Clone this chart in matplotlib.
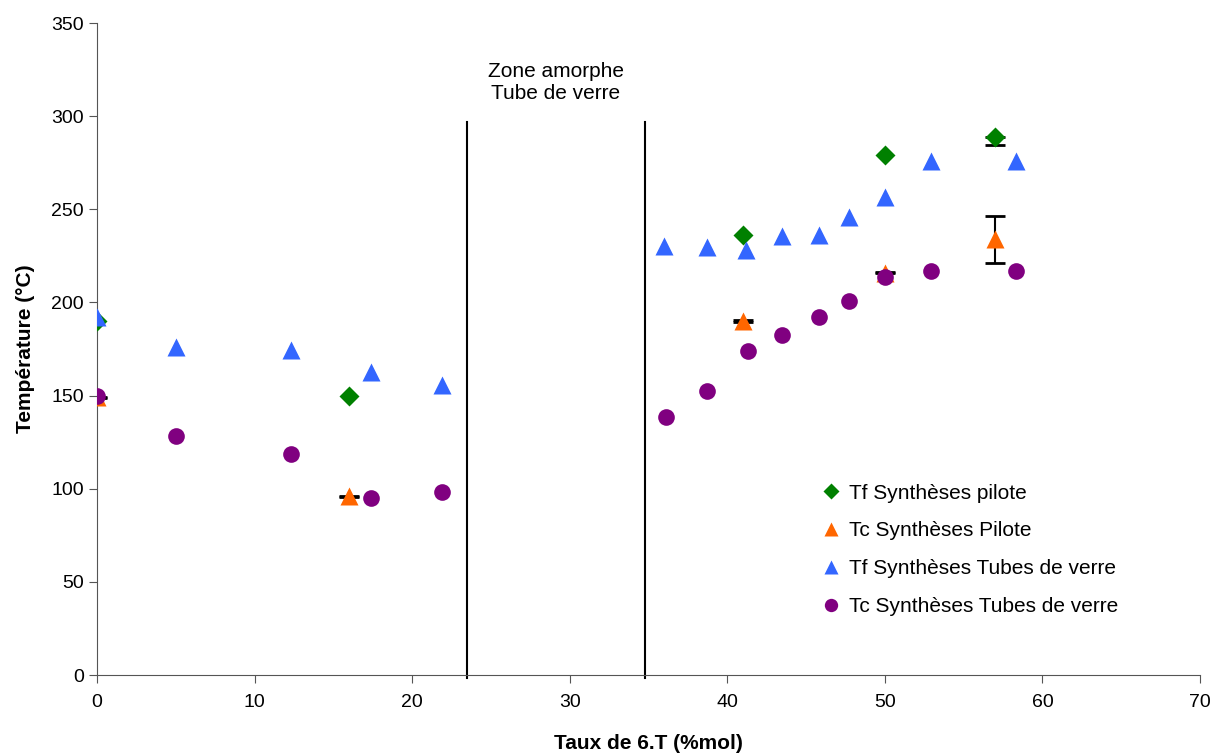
import numpy as np
import matplotlib
matplotlib.use('Agg')
from matplotlib import pyplot as plt

plt.rcParams['font.family'] = ['Liberation Sans', 'DejaVu Sans']

# Tf syntheses pilote
tf_pil_x = [0, 16, 41, 50, 57]
tf_pil_y = [190, 150, 236, 279, 289]
# only the last point carries an error bar (lower part visible)
tf_pil_err_x = [57]
tf_pil_err_y = [289]
tf_pil_err_lo = [4.5]

# Tc syntheses pilote
tc_pil_x = [0, 16, 41, 50, 57]
tc_pil_y = [149, 96, 190, 216, 234]
tc_pil_err = [0.3, 0.3, 0.3, 0.3, 12.6]

# Tf syntheses tubes de verre
tf_tub_x = [0, 5, 12.3, 17.4, 21.9, 36, 38.7, 41.2, 43.5, 45.8, 47.7, 50, 52.9, 58.3]
tf_tub_y = [192, 176, 174.5, 162.5, 155.5, 230.5, 229.5, 228, 235.5, 236, 246, 256.5, 276, 276]

# Tc syntheses tubes de verre
tc_tub_x = [0, 5, 12.3, 17.4, 21.9, 36.1, 38.7, 41.3, 43.5, 45.8, 47.7, 50, 52.9, 58.3]
tc_tub_y = [150, 128.5, 118.5, 95, 98.5, 138.5, 152.5, 174, 182.5, 192, 201, 213.5, 217, 217]

zone_lim = [23.5, 34.8]

fig = plt.figure(figsize=(12.24, 7.53), dpi=100)
ax = fig.add_axes([97/1224, 78/753, 1103/1224, 652/753])

ax.errorbar(tf_pil_err_x, tf_pil_err_y, yerr=[tf_pil_err_lo, [0]], fmt='none',
            ecolor='black', elinewidth=1.5, capsize=7, capthick=2, zorder=2)
ax.errorbar(tc_pil_x, tc_pil_y, yerr=tc_pil_err, fmt='none', ecolor='black',
            elinewidth=1.5, capsize=7, capthick=2, zorder=2)

ax.plot(tf_pil_x, tf_pil_y, 'D', color='#008000', ms=10, mec='none', zorder=3,
        label='Tf Synthèses pilote')
ax.plot(tc_pil_x, tc_pil_y, '^', color='#FF6600', ms=13, mec='none', zorder=3,
        label='Tc Synthèses Pilote')
ax.plot(tf_tub_x, tf_tub_y, '^', color='#3366FF', ms=13, mec='none', zorder=4,
        label='Tf Synthèses Tubes de verre')
ax.plot(tc_tub_x, tc_tub_y, 'o', color='#800080', ms=12, mec='none', zorder=5,
        label='Tc Synthèses Tubes de verre')

for xv in zone_lim:
    ax.plot([xv, xv], [-1.5, 297], color='black', lw=1.5, zorder=1, clip_on=False)

ax.text(29.1, 318, 'Zone amorphe\nTube de verre', ha='center', va='center',
        fontsize=15, linespacing=1.25)

ax.set_xlim(0, 70)
ax.set_ylim(0, 350)
ax.set_xticks(range(0, 71, 10))
ax.set_yticks(range(0, 351, 50))
ax.spines['top'].set_visible(False)
ax.spines['right'].set_visible(False)
for s in ['left', 'bottom']:
    ax.spines[s].set_color('#555555')
ax.tick_params(direction='out', length=6, labelsize=14, color='#555555')
ax.tick_params(axis='x', pad=8)
ax.set_xlabel('Taux de 6.T (%mol)', fontsize=15, fontweight='bold', labelpad=16)
ax.set_ylabel('Température (°C)', fontsize=15, fontweight='bold', labelpad=12)

ax.legend(loc='lower right', bbox_to_anchor=(0.943, 0.062), frameon=False,
          fontsize=15, handletextpad=0.2, labelspacing=0.9, handlelength=1.3,
          markerscale=0.8)

fig.savefig('out.png', dpi=100)
